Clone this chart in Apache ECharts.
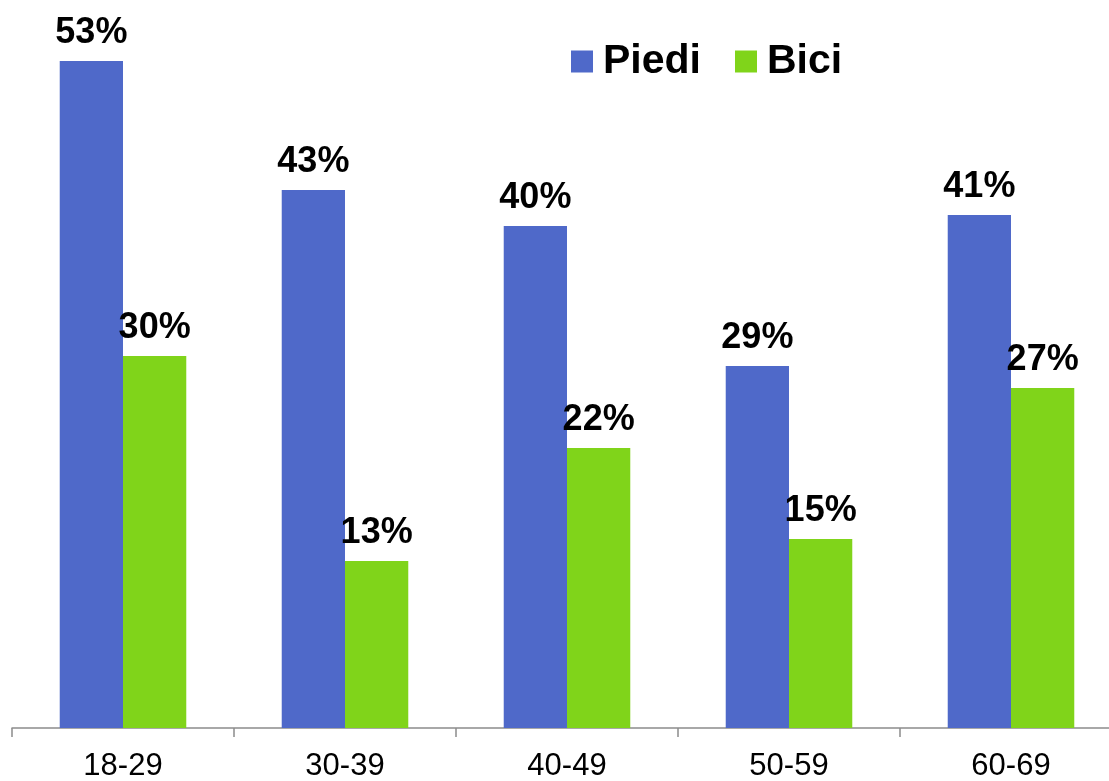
<!DOCTYPE html>
<html>
<head>
<meta charset="utf-8">
<script src="https://cdn.jsdelivr.net/npm/echarts@6/dist/echarts.min.js"></script>
<style>html,body{margin:0;padding:0;background:#fff;}#c{width:1109px;height:781px;}</style>
</head>
<body>
<div id="c"></div>
<script>
const categories = ['18-29', '30-39', '40-49', '50-59', '60-69'];
const piedi = [53.15, 42.87, 40.0, 28.84, 40.88];
const bici = [29.64, 13.31, 22.31, 15.06, 27.09];
const seriesNames = ['Piedi', 'Bici'];
const FONT = '"Liberation Sans", Arial, sans-serif';

const chart = echarts.init(document.getElementById('c'));
const label = {
  show: true, position: 'top', distance: 10,
  fontFamily: FONT, fontSize: 36, fontWeight: 'bold', color: '#000',
  formatter: p => Math.round(p.value) + '%'
};
chart.setOption({
  animation: false,
  backgroundColor: '#fff',
  grid: { left: 12, width: 1110, top: 0, bottom: 53, outerBoundsMode: 'none' },
  legend: {
    left: 566, top: 36, itemWidth: 22, itemHeight: 22, itemGap: 34, icon: 'rect',
    textStyle: { fontFamily: FONT, fontSize: 41, fontWeight: 'bold', color: '#000', padding: [0, 0, 0, 5] },
    data: seriesNames
  },
  xAxis: {
    type: 'category', data: categories,
    axisLine: { lineStyle: { color: '#8c8c8c', width: 1.5 } },
    axisTick: { show: true, length: 9, lineStyle: { color: '#8c8c8c', width: 1.5 } },
    axisLabel: { fontFamily: FONT, fontSize: 31, color: '#000', margin: 23 }
  },
  yAxis: { type: 'value', min: 0, max: 58, show: false, splitLine: { show: false } },
  series: [
    { name: seriesNames[0], type: 'bar', data: piedi, barGap: '0%', barCategoryGap: '43%',
      itemStyle: { color: '#4F69C9' }, label: label },
    { name: seriesNames[1], type: 'bar', data: bici, barGap: '0%', barCategoryGap: '43%',
      itemStyle: { color: '#80D41A' }, label: label }
  ]
});
</script>
</body>
</html>
